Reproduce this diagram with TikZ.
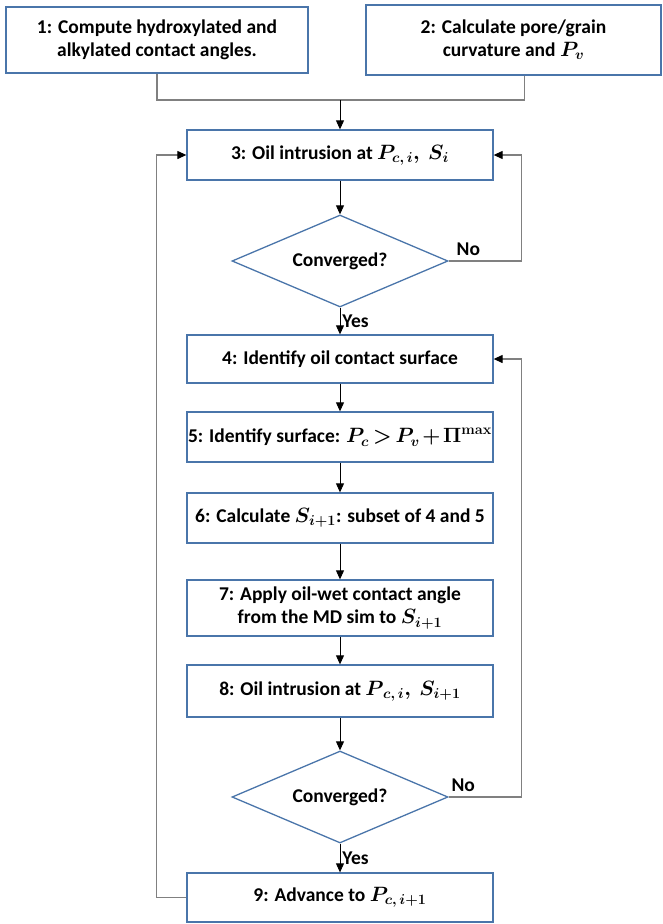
\documentclass[tikz,border=0pt]{standalone}
\usepackage{fontspec}
\setmainfont{Carlito}
\usepackage{amsmath}
\usepackage{bm}
\usetikzlibrary{arrows.meta,positioning,shapes.geometric}
\definecolor{boxline}{RGB}{74,117,170}
\definecolor{loopgray}{RGB}{128,128,128}
\newcommand{\chartfont}{\fontsize{19.5}{23}\selectfont\bfseries\boldmath}

\begin{document}
\begin{tikzpicture}[x=1pt, y=1pt,
  box/.style={draw=boxline, line width=1.3pt, minimum width=306pt, minimum height=50pt, align=center, font=\chartfont},
  test/.style={diamond, draw=boxline, line width=1.3pt, aspect=2.3, inner sep=0pt, minimum width=216pt, minimum height=92pt, font=\chartfont},
  lbl/.style={font=\chartfont, inner sep=2pt},
  wire/.style={draw=loopgray, line width=1.2pt},
  arr/.style={-{Triangle[width=8pt,length=9pt]}, line width=0.9pt},
  back/.style={wire, -{Triangle[width=8pt,length=9pt,color=black]}},
]
\useasboundingbox (0,0) rectangle (662,-924);
\node[box, minimum width=302pt, minimum height=66pt] (s1) at (157,-40) {1: Compute hydroxylated and\\alkylated contact angles.};
\node[box, minimum width=295pt, minimum height=70pt] (s2) at (513.5,-40) {2: Calculate pore/grain\\curvature and $\bm{P_v}$};
\node[box] (s3) at (340,-155) {3: Oil intrusion at $\bm{P_{c,\,i},\ S_i}$};
\node[test] (c1) at (340,-261) {Converged?};
\node[box, minimum height=48pt] (s4) at (340,-359) {4: Identify oil contact surface};
\node[box, inner xsep=1pt] (s5) at (340,-437) {\thickmuskip=3mu\medmuskip=2mu 5: Identify surface: $\bm{P_c > P_v + \Pi^{\mathbf{max}}}$};
\node[box] (s6) at (340,-518) {6: Calculate $\bm{S_{i+1}}$: subset of 4 and 5};
\node[box, minimum height=56pt] (s7) at (340,-608) {7: Apply oil-wet contact angle\\from the MD sim to $\bm{S_{i+1}}$};
\node[box, minimum height=52pt] (s8) at (340,-691) {8: Oil intrusion at $\bm{P_{\,c,\,i},\ S_{i+1}}$};
\node[test] (c2) at (340,-797) {Converged?};
\node[box, minimum height=49pt] (s9) at (340,-897.5) {9: Advance to $\bm{P_{c,\,i+1}}$};
\coordinate (merge) at (340,-100);
\draw[wire] (s1.south) |- (merge);
\draw[wire] ([xshift=11pt]s2.south) |- (merge);
\draw[arr] (merge) -- (s3);
\draw[arr] (s3) -- (c1);
\draw[arr] (c1) -- node[lbl, right] {Yes} (s4);
\draw[back] (c1.east) -- node[lbl, above, pos=0.27, yshift=3pt] {No} ++(73,0) |- (s3.east);
\draw[arr] (s4) -- (s5);
\draw[arr] (s5) -- (s6);
\draw[arr] (s6) -- (s7);
\draw[arr] (s7) -- (s8);
\draw[arr] (s8) -- (c2);
\draw[arr] (c2) -- node[lbl, right] {Yes} (s9);
\draw[back] (c2.east) -- node[lbl, above, pos=0.2, yshift=3pt] {No} ++(73,0) |- (s4.east);
\draw[back] (s9.west) -- ++(-30,0) |- (s3.west);
\end{tikzpicture}
\end{document}
